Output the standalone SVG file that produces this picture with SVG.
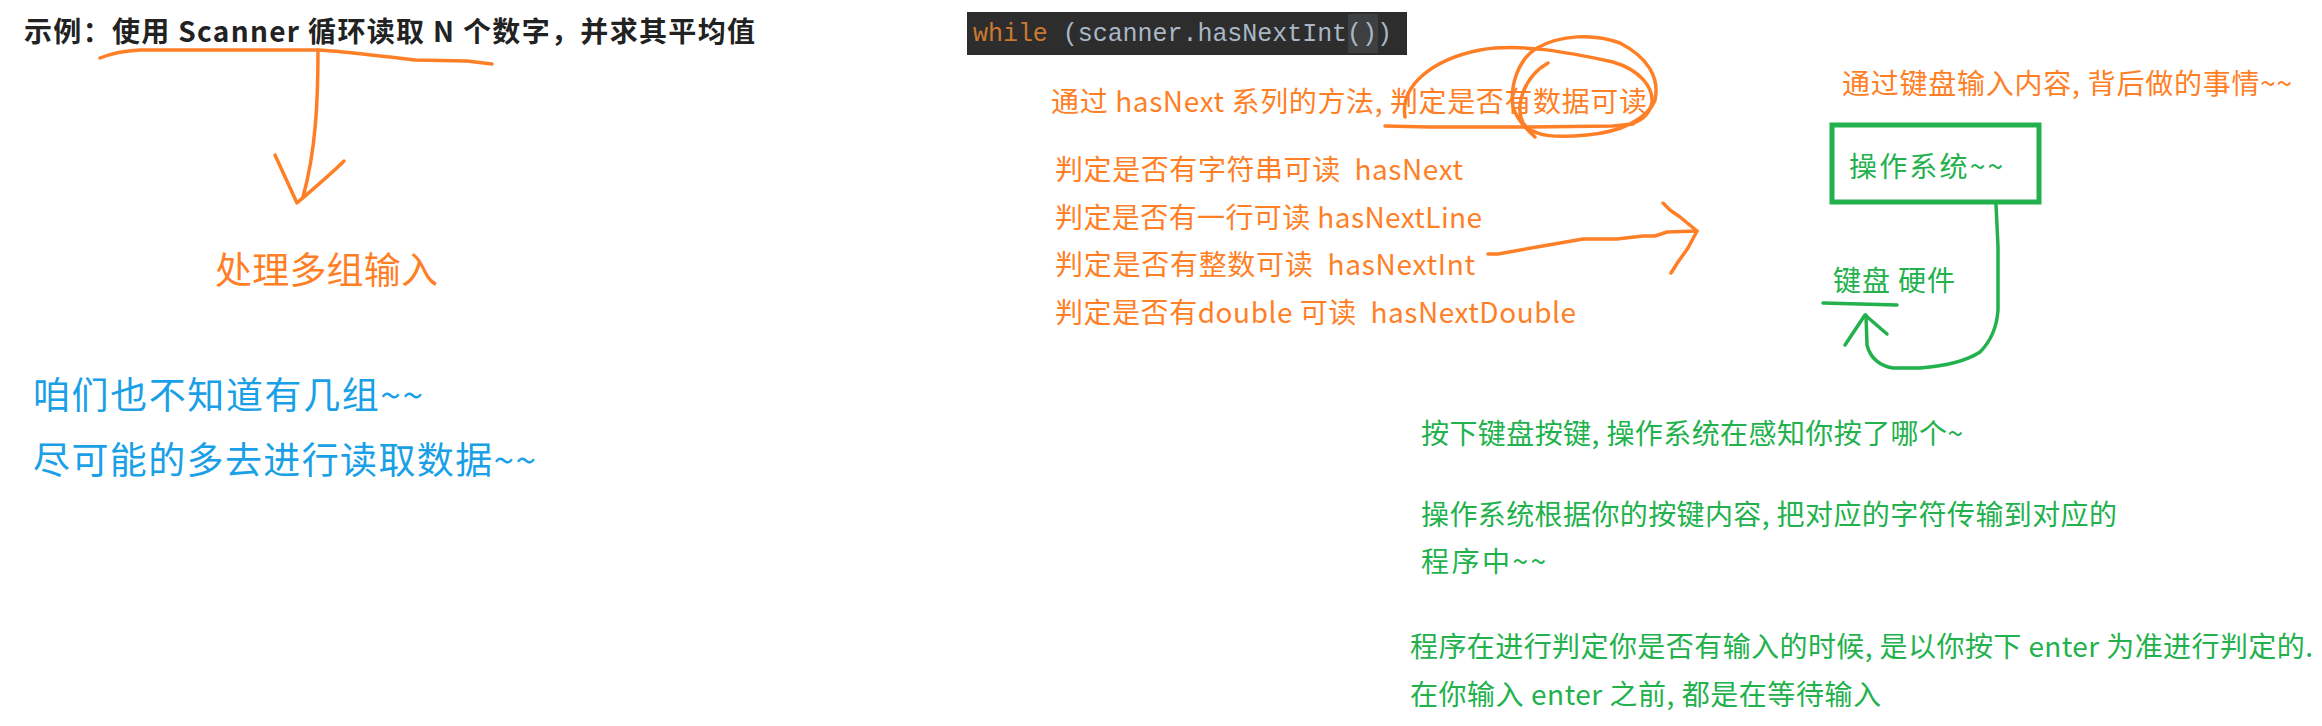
<svg xmlns="http://www.w3.org/2000/svg" width="2322" height="726" viewBox="0 0 2322 726">
<style>
text{font-family:"Noto Sans CJK SC","Noto Sans",sans-serif;white-space:pre}
.title{font-size:28px;font-weight:bold;fill:#222}
.or{fill:#ff7f27;font-size:28px}
.big{fill:#ff7f27;font-size:37px}
.blue{fill:#19a0e6;font-size:37px}
.gr{fill:#22b14c;font-size:28px}
.code{font-family:"Liberation Mono","DejaVu Sans Mono",monospace;font-size:25px;fill:#a9b7c6}
.kw{fill:#cc7832}
.so{fill:none;stroke:#ff7f27;stroke-width:3.5;stroke-linecap:round;stroke-linejoin:round}
.sg{fill:none;stroke:#22b14c;stroke-width:3.5;stroke-linecap:round;stroke-linejoin:round}
</style>
<rect width="2322" height="726" fill="#fff"/>
<g id="title">
<text class="title" x="24" y="42" textLength="731" lengthAdjust="spacing">示例：使用 Scanner 循环读取 N 个数字，并求其平均值</text>
</g>
<g id="multi-input">
<text class="big" x="215" y="284" textLength="223" lengthAdjust="spacing">处理多组输入</text>
</g>
<g id="blue-notes">
<text class="blue" x="33" y="409" textLength="390" lengthAdjust="spacing">咱们也不知道有几组~~</text>
<text class="blue" x="33" y="474" textLength="503" lengthAdjust="spacing">尽可能的多去进行读取数据~~</text>
</g>
<g id="code">
<rect x="967" y="12" width="440" height="43" fill="#2d2d2d"/>
<rect x="1348" y="14" width="30" height="39" fill="#3d3f41"/>
<text class="code" x="973" y="41" textLength="419" lengthAdjust="spacing"><tspan class="kw">while</tspan> (scanner.hasNextInt())</text>
</g>
<g id="hasnext-note">
<text class="or" x="1051" y="112" textLength="596" lengthAdjust="spacing">通过 hasNext 系列的方法, 判定是否有数据可读</text>
</g>
<g id="methods">
<text class="or" x="1055" y="180" textLength="408" lengthAdjust="spacing">判定是否有字符串可读  hasNext</text>
<text class="or" x="1055" y="228" textLength="427" lengthAdjust="spacing">判定是否有一行可读 hasNextLine</text>
<text class="or" x="1055" y="275" textLength="420" lengthAdjust="spacing">判定是否有整数可读  hasNextInt</text>
<text class="or" x="1055" y="323" textLength="521" lengthAdjust="spacing">判定是否有double 可读  hasNextDouble</text>
</g>
<g id="keyboard-note">
<text class="or" x="1842" y="94" textLength="450" lengthAdjust="spacing">通过键盘输入内容, 背后做的事情~~</text>
</g>
<g id="os">
<rect x="1832" y="125" width="207" height="77" fill="none" stroke="#22b14c" stroke-width="5"/>
<text class="gr" x="1849" y="177" textLength="154" lengthAdjust="spacing">操作系统~~</text>
</g>
<g id="keyboard">
<text class="gr" x="1833" y="291" textLength="122" lengthAdjust="spacing">键盘 硬件</text>
</g>
<g id="green-notes">
<text class="gr" x="1421" y="444" textLength="542" lengthAdjust="spacing">按下键盘按键, 操作系统在感知你按了哪个~</text>
<text class="gr" x="1421" y="525" textLength="696" lengthAdjust="spacing">操作系统根据你的按键内容, 把对应的字符传输到对应的</text>
<text class="gr" x="1421" y="572" textLength="125" lengthAdjust="spacing">程序中~~</text>
<text class="gr" x="1410" y="657" textLength="903" lengthAdjust="spacing">程序在进行判定你是否有输入的时候, 是以你按下 enter 为准进行判定的.</text>
<text class="gr" x="1410" y="705" textLength="471" lengthAdjust="spacing">在你输入 enter 之前, 都是在等待输入</text>
</g>
<g id="connectors">
<path class="so" d="M100,58 C110,54 120,51 140,50 L318,50 C340,51 360,54 390,57 L415,60 L467,61 L492,64"/>
<path class="so" d="M318,50 C318,100 316,150 303,197"/>
<path class="so" d="M275,155 L297,203 M344,161 C330,175 312,190 298,202"/>
<path class="so" d="M1405,117 C1400,87 1430,60 1480,50 C1520,43 1567,52 1613,62 C1640,70 1653,87 1652,102 C1650,113 1643,120 1633,123"/>
<path class="so" d="M1385,126 L1430,127 L1530,127 L1613,126 L1633,124"/>
<path class="so" d="M1548,63 C1523,77 1515,107 1523,123 C1532,137 1557,138 1587,135 C1620,132 1647,120 1655,100 C1660,77 1647,57 1620,43 C1593,33 1560,35 1537,48 C1517,60 1510,87 1513,107 C1517,120 1527,130 1535,137"/>
<path class="so" d="M1488,254 L1498,254 L1537,247 L1583,239 L1617,239 L1643,236 L1655,236 L1667,232 L1697,231"/>
<path class="so" d="M1663,203 L1670,210 L1680,217 L1697,231 M1671,273 L1678,262 L1688,248 L1697,231"/>
<path class="sg" d="M1823,303 L1860,304 L1897,305"/>
<path class="sg" d="M1996,204 L1998,247 L1998,310 C1997,325 1992,340 1980,352 C1965,362 1945,366 1920,368 L1893,368 C1880,366 1870,358 1867,345 L1866,315"/>
<path class="sg" d="M1845,345 L1865,315 L1887,334"/>
</g>
</svg>
